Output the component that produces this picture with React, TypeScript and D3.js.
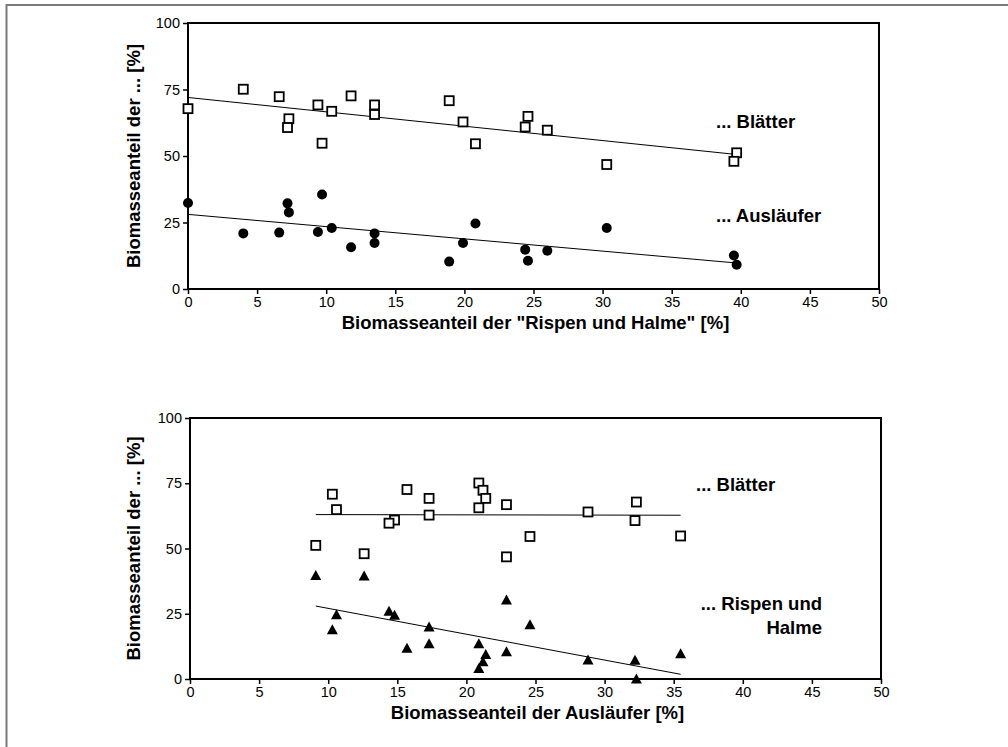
import React, { useRef, useEffect } from 'react';
import * as d3 from 'd3';

// one entry per sample, shares of total biomass [%]
const rispenHalme = [0, 4.0, 6.6, 7.3, 7.2, 9.4, 9.7, 10.4, 11.8, 13.5, 13.5, 18.9, 19.9, 20.8, 24.4, 24.6, 26.0, 30.3, 39.7, 39.5];
const blaetter = [67.8, 75.1, 72.3, 64.0, 60.7, 69.2, 54.8, 66.8, 72.6, 69.2, 65.6, 70.8, 62.8, 54.6, 60.9, 64.9, 59.7, 46.8, 51.2, 48.0];
const auslaeufer = [32.3, 20.9, 21.2, 28.8, 32.2, 21.4, 35.5, 22.9, 15.7, 17.3, 20.9, 10.3, 17.3, 24.6, 14.8, 10.6, 14.4, 22.9, 9.1, 12.6];

const xTicks = [0, 5, 10, 15, 20, 25, 30, 35, 40, 45, 50];
const yTicks = [0, 25, 50, 75, 100];

const yTitle = 'Biomasseanteil der ... [%]';

const panels = [
  {
    box: { left: 188, right: 879, top: 23, bottom: 289 },
    x: rispenHalme,
    xTitle: 'Biomasseanteil der "Rispen und Halme" [%]',
    series: [
      { y: blaetter, marker: 'square' },
      { y: auslaeufer, marker: 'circle' },
    ],
    notes: [
      { lines: ['... Blätter'], x: 716, y: 128, anchor: 'start' },
      { lines: ['... Ausläufer'], x: 716, y: 222, anchor: 'start' },
    ],
  },
  {
    box: { left: 190, right: 881, top: 418, bottom: 679 },
    x: auslaeufer,
    xTitle: 'Biomasseanteil der Ausläufer [%]',
    series: [
      { y: blaetter, marker: 'square' },
      { y: rispenHalme, marker: 'triangle' },
    ],
    notes: [
      { lines: ['... Blätter'], x: 696, y: 491, anchor: 'start' },
      { lines: ['... Rispen und', 'Halme'], x: 822, y: 610, anchor: 'end' },
    ],
  },
];

// least squares line over the x range of the data (like the Excel trendline)
const trend = (xs: number[], ys: number[]) => {
  const mx = d3.mean(xs) as number;
  const my = d3.mean(ys) as number;
  let sxy = 0, sxx = 0;
  xs.forEach((x, i) => { sxy += (x - mx) * (ys[i] - my); sxx += (x - mx) ** 2; });
  const b = sxy / sxx;
  const [x0, x1] = d3.extent(xs) as [number, number];
  return [[x0, my + b * (x0 - mx)], [x1, my + b * (x1 - mx)]];
};

const font = 'Arial, "Liberation Sans", Helvetica, sans-serif';

export default function App() {
  const svgRef = useRef<SVGSVGElement>(null);

  useEffect(() => {
    const svg = d3.select(svgRef.current);
    svg.selectAll('*').remove();

    // outer frame (only left and top edges are visible)
    svg.append('path')
      .attr('d', 'M6.5,747V5H1008')
      .attr('fill', 'none')
      .attr('stroke', '#7a7a7a')
      .attr('stroke-width', 2);

    panels.forEach(p => {
      const { box } = p;
      const xScale = d3.scaleLinear().domain([0, 50]).range([box.left, box.right]);
      const yScale = d3.scaleLinear().domain([0, 100]).range([box.bottom, box.top]);
      const g = svg.append('g');

      const yAxis = g.append('g')
        .attr('transform', `translate(${box.left},0)`)
        .call(d3.axisLeft(yScale).tickValues(yTicks).tickSize(5).tickPadding(3).tickFormat(d3.format('d')));
      const xAxis = g.append('g')
        .attr('transform', `translate(0,${box.bottom})`)
        .call(d3.axisBottom(xScale).tickValues(xTicks).tickSize(5).tickPadding(3).tickFormat(d3.format('d')));
      [yAxis, xAxis].forEach(a => {
        a.select('.domain').remove();
        a.selectAll('line').attr('stroke', '#000').attr('stroke-width', 1.5);
        a.selectAll('text')
          .attr('fill', '#000')
          .style('font-family', font)
          .style('font-size', '14.5px');
      });

      // plot area border
      g.append('rect')
        .attr('x', box.left)
        .attr('y', box.top)
        .attr('width', box.right - box.left)
        .attr('height', box.bottom - box.top)
        .attr('fill', 'none')
        .attr('stroke', '#000')
        .attr('stroke-width', 2);

      // axis titles
      g.append('text')
        .attr('x', (box.left + box.right) / 2 + 2)
        .attr('y', box.bottom + 40)
        .attr('text-anchor', 'middle')
        .attr('font-weight', 'bold')
        .style('font-family', font)
        .style('font-size', '18.5px')
        .text(p.xTitle);

      g.append('text')
        .attr('transform', `translate(140,${(box.top + box.bottom) / 2}) rotate(-90)`)
        .attr('text-anchor', 'middle')
        .attr('font-weight', 'bold')
        .style('font-family', font)
        .style('font-size', '18.5px')
        .text(yTitle);

      // trend lines
      p.series.forEach(s => {
        const pts = trend(p.x, s.y);
        g.append('path')
          .datum(pts)
          .attr('fill', 'none')
          .attr('stroke', '#000')
          .attr('stroke-width', 1)
          .attr('d', d3.line().x(d => xScale(d[0])).y(d => yScale(d[1])));
      });

      // markers
      p.series.forEach(s => {
        p.x.forEach((xv, i) => {
          const cx = xScale(xv);
          const cy = yScale(s.y[i]);
          if (s.marker === 'square') {
            g.append('rect')
              .attr('x', cx - 4.5).attr('y', cy - 4.5)
              .attr('width', 9).attr('height', 9)
              .attr('fill', '#fff')
              .attr('stroke', '#000')
              .attr('stroke-width', 1.8);
          } else if (s.marker === 'circle') {
            g.append('circle')
              .attr('cx', cx).attr('cy', cy).attr('r', 5)
              .attr('fill', '#000');
          } else {
            g.append('path')
              .attr('d', `M${cx},${cy - 5.5}L${cx + 5.5},${cy + 4.5}L${cx - 5.5},${cy + 4.5}Z`)
              .attr('fill', '#000');
          }
        });
      });

      // series labels
      p.notes.forEach(n => {
        const t = g.append('text')
          .attr('text-anchor', n.anchor)
          .attr('font-weight', 'bold')
          .style('font-family', font)
          .style('font-size', '18.5px');
        n.lines.forEach((line, i) => {
          t.append('tspan')
            .attr('x', n.x)
            .attr('y', n.y + i * 24)
            .text(line);
        });
      });
    });
  }, []);

  return (
    <svg
      ref={svgRef}
      width={1008}
      height={747}
      style={{ position: 'absolute', left: 0, top: 0, background: '#fff' }}
    />
  );
}
